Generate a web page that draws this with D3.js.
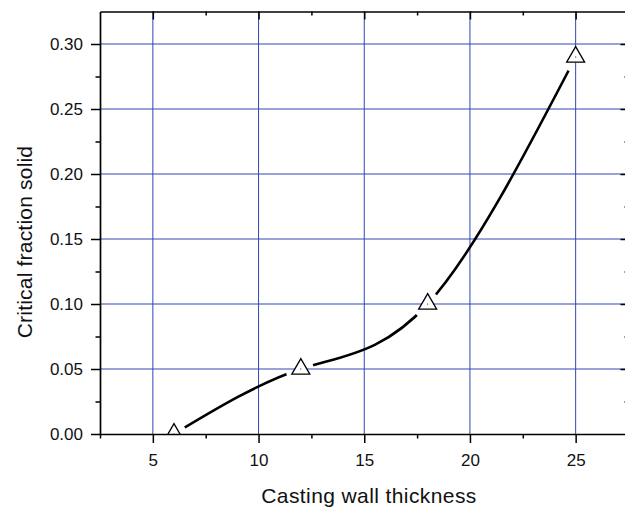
<!DOCTYPE html>
<html>
<head>
<meta charset="utf-8">
<script src="https://cdn.jsdelivr.net/npm/d3@7"></script>
<style>
  body { margin: 0; background: #fff; }
  svg { display: block; }
  text { font-family: "Liberation Sans", Arial, Helvetica, sans-serif; }
</style>
</head>
<body>
<svg id="chart" width="625" height="507"></svg>
<script>
// Measured critical fraction solid versus casting wall thickness
const thickness = [6, 12, 18, 25];
const fractionSolid = [0.00, 0.05, 0.10, 0.29];

const xMajorTicks = [5, 10, 15, 20, 25];
const xMinorTicks = [2.5, 7.5, 12.5, 17.5, 22.5, 27.5];
const yMajorTicks = [0.00, 0.05, 0.10, 0.15, 0.20, 0.25, 0.30];
const yMinorTicks = [0.025, 0.075, 0.125, 0.175, 0.225, 0.275];

const xTitle = "Casting wall thickness";
const yTitle = "Critical fraction solid";

const W = 625, H = 507;
const svg = d3.select("#chart");

const x = d3.scaleLinear().domain([2.5, 27.5]).range([100, 628.5]);
const y = d3.scaleLinear().domain([0, 0.325]).range([434, 11.5]);

const points = thickness.map((t, i) => [t, fractionSolid[i]]);

const defs = svg.append("defs");

// plot-area clip for the markers
defs.append("clipPath").attr("id", "plotClip")
  .append("rect")
  .attr("x", x(2.5)).attr("y", y(0.325))
  .attr("width", x(27.5) - x(2.5)).attr("height", y(0) - y(0.325));

// the curve stops short of each marker
const gapMask = defs.append("mask").attr("id", "symbolGap")
  .attr("maskUnits", "userSpaceOnUse")
  .attr("x", 0).attr("y", 0).attr("width", W).attr("height", H);
gapMask.append("rect").attr("width", W).attr("height", H).attr("fill", "#fff");
gapMask.selectAll("circle").data(points).join("circle")
  .attr("cx", d => x(d[0]) - 1)
  .attr("cy", d => y(d[1]) + 1)
  .attr("r", 14)
  .attr("fill", "#000");

// grid
const gridColor = "#3147b6";
svg.append("g").selectAll("line").data(xMajorTicks).join("line")
  .attr("x1", d => x(d)).attr("x2", d => x(d))
  .attr("y1", y(0)).attr("y2", y(0.325))
  .attr("stroke", gridColor).attr("stroke-width", 1);
svg.append("g").selectAll("line").data(yMajorTicks.filter(v => v > 0)).join("line")
  .attr("x1", x(2.5)).attr("x2", x(27.5))
  .attr("y1", d => y(d)).attr("y2", d => y(d))
  .attr("stroke", gridColor).attr("stroke-width", 1);

// smooth curve through the measured points
const line = d3.line()
  .x(d => x(d[0]))
  .y(d => y(d[1]))
  .curve(d3.curveNatural);

svg.append("path")
  .datum(points)
  .attr("d", line)
  .attr("fill", "none")
  .attr("stroke", "#000")
  .attr("stroke-width", 2.6)
  .attr("mask", "url(#symbolGap)");

// open triangle markers
const markers = svg.append("g").attr("clip-path", "url(#plotClip)")
  .selectAll("g").data(points).join("g")
  .attr("transform", d => `translate(${x(d[0])},${y(d[1])})`);
markers.append("path")
  .attr("d", d3.symbol(d3.symbolTriangle, 140)())
  .attr("fill", "#fff")
  .attr("stroke", "#000")
  .attr("stroke-width", 1.3);
markers.append("circle").attr("r", 0.6).attr("fill", "#000");

// axes
function styleAxis(g, fontSize) {
  g.select(".domain").attr("stroke", "#000").attr("stroke-width", 1.7);
  g.selectAll(".tick line").attr("stroke", "#000").attr("stroke-width", 1.5);
  g.selectAll(".tick text").attr("fill", "#111").style("font-size", fontSize + "px")
    .style("font-family", '"Liberation Sans", Arial, Helvetica, sans-serif');
}

// bottom
svg.append("g").attr("transform", `translate(0,${y(0)})`)
  .call(d3.axisBottom(x).tickValues(xMajorTicks).tickSize(9).tickSizeOuter(0)
    .tickPadding(11).tickFormat(d3.format("d")))
  .call(g => styleAxis(g, 17));
svg.append("g").attr("transform", `translate(0,${y(0)})`)
  .call(d3.axisBottom(x).tickValues(xMinorTicks).tickSize(4.5).tickFormat(""))
  .call(g => { g.select(".domain").remove(); styleAxis(g, 17); });

// left
svg.append("g").attr("transform", `translate(${x(2.5)},0)`)
  .call(d3.axisLeft(y).tickValues(yMajorTicks).tickSize(9).tickSizeOuter(0)
    .tickPadding(8).tickFormat(d3.format(".2f")))
  .call(g => styleAxis(g, 17));
svg.append("g").attr("transform", `translate(${x(2.5)},0)`)
  .call(d3.axisLeft(y).tickValues(yMinorTicks).tickSize(4.5).tickFormat(""))
  .call(g => { g.select(".domain").remove(); styleAxis(g, 17); });

// top (ticks inward)
svg.append("g").attr("transform", `translate(0,${y(0.325)})`)
  .call(d3.axisTop(x).tickValues(xMajorTicks).tickSize(-8).tickSizeOuter(0).tickFormat(""))
  .call(g => styleAxis(g, 17));
svg.append("g").attr("transform", `translate(0,${y(0.325)})`)
  .call(d3.axisTop(x).tickValues(xMinorTicks.filter(v => v > 2.5 && v < 27.5)).tickSize(-4).tickFormat(""))
  .call(g => { g.select(".domain").remove(); styleAxis(g, 17); });

// right (ticks inward)
svg.append("g").attr("transform", `translate(${x(27.5)},0)`)
  .call(d3.axisRight(y).tickValues(yMajorTicks.filter(v => v > 0)).tickSize(-8).tickSizeOuter(0).tickFormat(""))
  .call(g => styleAxis(g, 17));
svg.append("g").attr("transform", `translate(${x(27.5)},0)`)
  .call(d3.axisRight(y).tickValues(yMinorTicks).tickSize(-4).tickFormat(""))
  .call(g => { g.select(".domain").remove(); styleAxis(g, 17); });

// axis titles
svg.append("text")
  .attr("x", 369).attr("y", 503)
  .attr("text-anchor", "middle")
  .attr("fill", "#111")
  .style("font-size", "21px")
  .style("letter-spacing", "0.4px")
  .text(xTitle);

svg.append("text")
  .attr("transform", "translate(32,242) rotate(-90)")
  .attr("text-anchor", "middle")
  .attr("fill", "#111")
  .style("font-size", "21px")
  .style("letter-spacing", "0.2px")
  .text(yTitle);
</script>
</body>
</html>
